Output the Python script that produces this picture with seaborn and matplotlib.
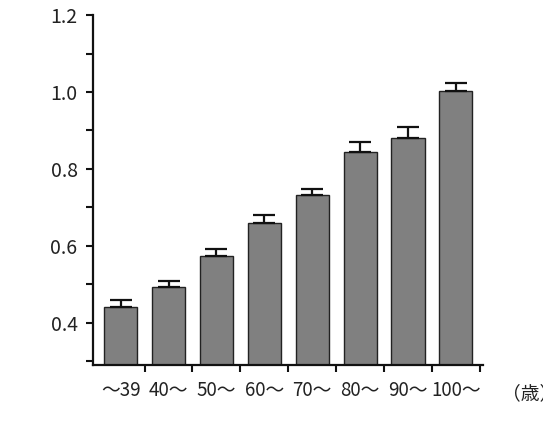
import numpy as np
import pandas as pd
import matplotlib
matplotlib.use('Agg')
import matplotlib.pyplot as plt
import seaborn as sns
from matplotlib.ticker import MultipleLocator, FixedLocator

# データ
age_groups = ['～39', '40～', '50～', '60～', '70～', '80～', '90～', '100～']
ratio = [0.442, 0.493, 0.574, 0.659, 0.732, 0.843, 0.880, 1.002]
err_up = [0.016, 0.016, 0.018, 0.020, 0.017, 0.026, 0.028, 0.021]

sns.set_style('ticks')
plt.rcParams['font.family'] = ['Noto Sans CJK JP', 'DejaVu Sans']

df = pd.DataFrame({'age': age_groups, 'ratio': ratio})

fig = plt.figure(figsize=(5.43, 4.30), dpi=100)
ax = fig.add_axes([0.171, 0.151, 0.718, 0.814])

sns.barplot(data=df, x='age', y='ratio', color='#808080', saturation=1,
            edgecolor='#222222', linewidth=1.0, width=0.69, ax=ax)

# 上側のみの誤差棒
ax.errorbar(np.arange(len(age_groups)), ratio,
            yerr=[np.zeros(len(err_up)), err_up],
            fmt='none', ecolor='#111111', elinewidth=1.6,
            capsize=8, capthick=1.6, zorder=1)

ax.set_ylim(0.29, 1.2)
ax.set_xlim(-0.58, 7.56)
ax.set_yticks([0.4, 0.6, 0.8, 1.0, 1.2])
ax.set_yticklabels(['0.4', '0.6', '0.8', '1.0', '1.2'])
ax.yaxis.set_minor_locator(MultipleLocator(0.1))
ax.xaxis.set_minor_locator(FixedLocator(np.arange(0.5, 8, 1)))

ax.tick_params(axis='x', which='major', length=0, pad=11, labelsize=13.5,
               labelcolor='#222222')
ax.tick_params(axis='x', which='minor', length=5, width=1.5, color='#111111')
ax.tick_params(axis='y', which='both', length=5, width=1.5, color='#111111',
               labelsize=14, pad=6, labelcolor='#222222')

for s in ['left', 'bottom']:
    ax.spines[s].set_linewidth(1.6)
    ax.spines[s].set_color('#111111')
sns.despine(ax=ax)

ax.set_xlabel('')
ax.set_ylabel('')
fig.text(0.925, 0.085, '（歳）', fontsize=13.5, ha='left', va='center',
         color='#222222')

fig.savefig('out.png', dpi=100)
